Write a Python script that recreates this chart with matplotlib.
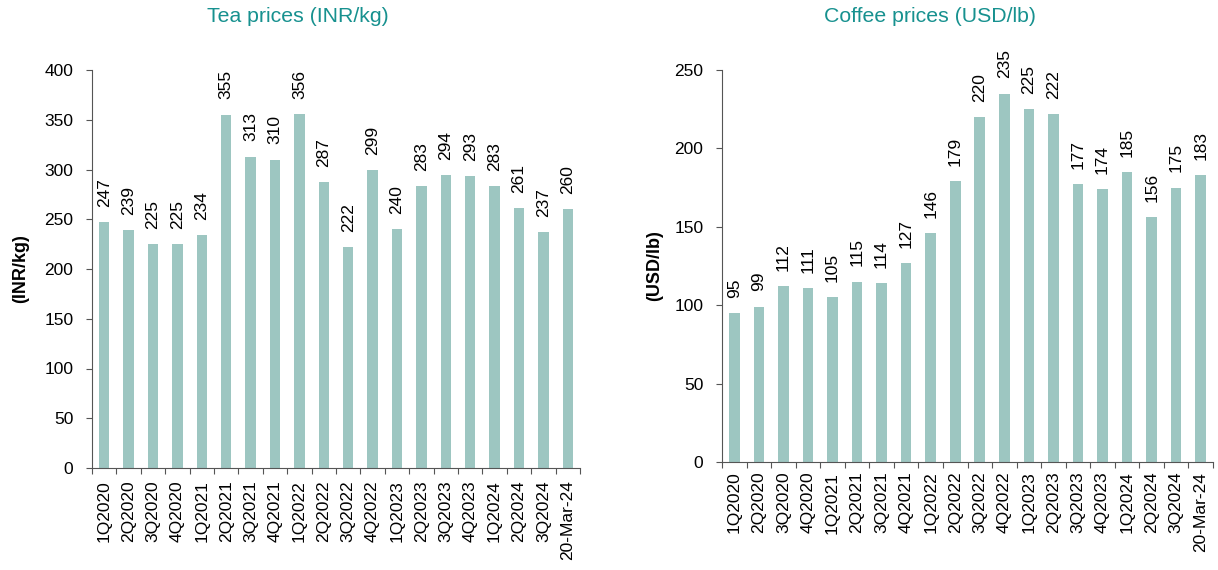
import matplotlib
matplotlib.use("Agg")
import matplotlib.pyplot as plt
import numpy as np

plt.rcParams['font.family'] = ['Liberation Sans', 'DejaVu Sans']

periods = ["1Q2020", "2Q2020", "3Q2020", "4Q2020", "1Q2021", "2Q2021", "3Q2021",
           "4Q2021", "1Q2022", "2Q2022", "3Q2022", "4Q2022", "1Q2023", "2Q2023",
           "3Q2023", "4Q2023", "1Q2024", "2Q2024", "3Q2024", "20-Mar-24"]
tea_prices = [247, 239, 225, 225, 234, 355, 313, 310, 356, 287, 222, 299, 240,
              283, 294, 293, 283, 261, 237, 260]
coffee_prices = [95, 99, 112, 111, 105, 115, 114, 127, 146, 179, 220, 235, 225,
                 222, 177, 174, 185, 156, 175, 183]

BAR = "#9DC6C1"
TITLE = "#17918F"
AXIS = "#555555"

fig = plt.figure(figsize=(12.18, 5.70), dpi=100)
ax1 = fig.add_axes([92/1218, 1-468/570, (580-92)/1218, (468-70)/570])
ax2 = fig.add_axes([722/1218, 1-462/570, (1213-722)/1218, (462-70)/570])


def draw(ax, values, ymax, step, ylabel, xpad):
    x = np.arange(len(values))
    ax.bar(x, values, width=0.43, color=BAR, zorder=2)
    ax.set_xlim(-0.5, len(values) - 0.5)
    ax.set_ylim(0, ymax)
    ax.set_yticks(np.arange(0, ymax + 1, step))
    for xi, v in zip(x, values):
        ax.annotate(f"{v}", (xi, v), xytext=(0, 11), textcoords="offset points",
                    rotation=90, ha="center", va="bottom", fontsize=12.5,
                    annotation_clip=False)
    ax.set_xticks(x)
    ax.set_xticklabels(periods, rotation=90, fontsize=12.5)
    ax.tick_params(axis="x", length=0, pad=xpad)
    ax.set_xticks(np.arange(-0.5, len(values)), minor=True)
    ax.tick_params(axis="x", which="minor", length=4.5, width=0.8, color=AXIS)
    ax.tick_params(axis="y", length=4.5, width=0.8, labelsize=12.5, pad=9,
                   color=AXIS)
    for s in ["top", "right"]:
        ax.spines[s].set_visible(False)
    for s in ["left", "bottom"]:
        ax.spines[s].set_color(AXIS)
        ax.spines[s].set_linewidth(0.8)
    ax.set_ylabel(ylabel, fontweight="bold", fontsize=13)


draw(ax1, tea_prices, 400, 50, "(INR/kg)", 9)
draw(ax2, coffee_prices, 250, 50, "(USD/lb)", 7)
ax1.yaxis.set_label_coords(-0.129, 0.5)
ax2.yaxis.set_label_coords(-0.12, 0.5)

fig.text(298/1218, 1-16/570, "Tea prices (INR/kg)", color=TITLE, fontsize=15.3,
         ha="center", va="center")
fig.text(930/1218, 1-16/570, "Coffee prices (USD/lb)", color=TITLE, fontsize=15.3,
         ha="center", va="center")

fig.savefig("out.png", dpi=100)
